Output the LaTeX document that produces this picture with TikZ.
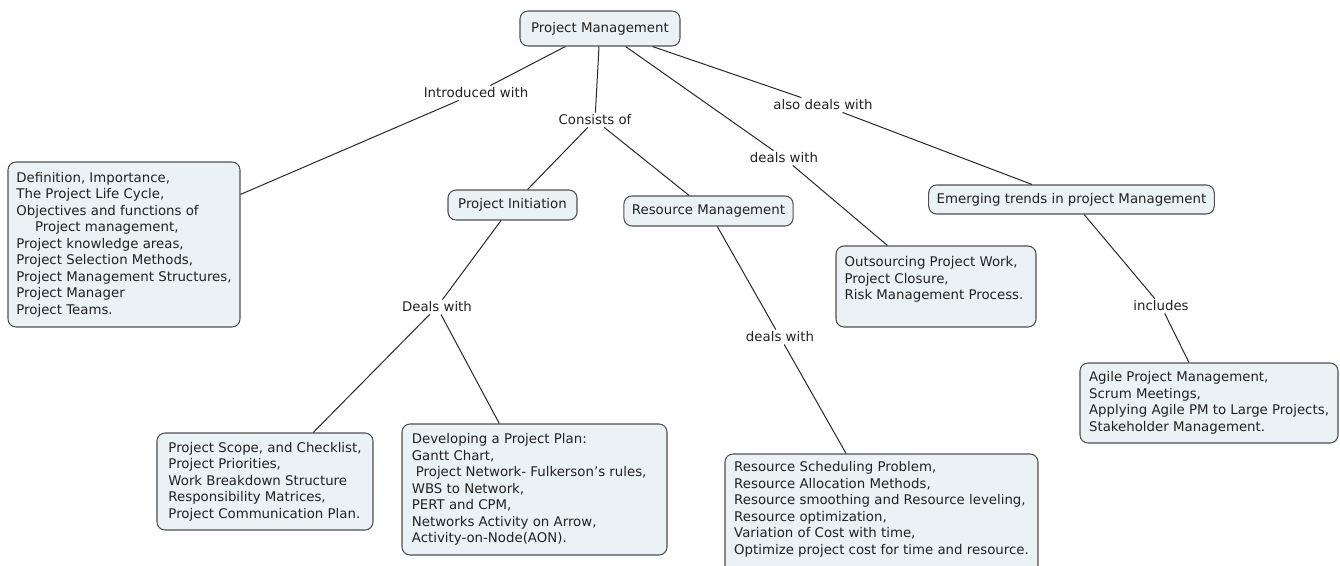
\documentclass[tikz,border=0pt]{standalone}
\usepackage{fontspec}
\setmainfont{DejaVu Sans}
\usepackage{tikz}

\definecolor{boxfill}{RGB}{234,242,245}
\definecolor{boxline}{RGB}{80,80,80}
\definecolor{linkline}{RGB}{40,40,40}
\definecolor{inktext}{RGB}{34,34,34}

\begin{document}
\begin{tikzpicture}[x=0.75pt, y=-0.75pt,
	font=\fontsize{10}{12.375}\selectfont,
	concept/.style={draw=boxline, fill=boxfill, rounded corners=6pt, line width=0.8pt, text=inktext, inner xsep=6pt, inner ysep=2pt},
	single/.style={concept, align=center},
	listbox/.style={concept, align=left},
	phrase/.style={text=inktext, inner sep=1.5pt},
	link/.style={draw=linkline, line width=0.75pt}]

	\useasboundingbox (0,0) rectangle (1340,565);

	%top

	\node[single, minimum width=120pt, minimum height=26.25pt] (pm) at (600,28.5) {Project Management};

	%first level

	\node[listbox, minimum width=174pt, minimum height=123.75pt] (intro) at (124,244.5) {Definition, Importance,\\The Project Life Cycle,\\Objectives and functions of\\\hspace*{14pt}Project management,\\Project knowledge areas,\\Project Selection Methods,\\Project Management Structures,\\Project Manager\\Project Teams.};
	\node[single, minimum width=96.75pt, minimum height=22.5pt] (init) at (512.5,205) {Project Initiation};
	\node[single, minimum width=126.75pt, minimum height=22.5pt] (resmgmt) at (708.5,211) {Resource Management};
	\node[listbox, minimum width=150pt, minimum height=60.75pt] (outs) at (936,286.5) {Outsourcing Project Work,\\Project Closure,\\Risk Management Process.\kern 3pt\\\mbox{}};
	\node[single, minimum width=213.75pt, minimum height=21.75pt] (trends) at (1071.5,199.5) {Emerging trends in project Management};

	%second level

	\node[listbox, minimum width=162pt, minimum height=72.75pt] (scope) at (265,481.5) {Project Scope, and Checklist,\\Project Priorities,\\Work Breakdown Structure\\Responsibility Matrices,\\Project Communication Plan.};
	\node[listbox, minimum width=198.75pt, minimum height=98.25pt] (plan) at (534.5,489.5) {Developing a Project Plan:\\Gantt Chart,\\\hspace*{3pt}Project Network- Fulkerson’s rules,\kern 8pt\\WBS to Network,\\PERT and CPM,\\Networks Activity on Arrow,\\Activity-on-Node(AON).};
	\node[listbox, minimum width=234.75pt, minimum height=93pt] (sched) at (881.5,516) {Resource Scheduling Problem,\\Resource Allocation Methods,\\Resource smoothing and Resource leveling,\\Resource optimization,\\Variation of Cost with time,\\Optimize project cost for time and resource.\\\mbox{}};
	\node[listbox, minimum width=193.5pt, minimum height=60pt] (agile) at (1209,403) {Agile Project Management,\\Scrum Meetings,\\Applying Agile PM to Large Projects,\\Stakeholder Management.};

	%linking phrases

	\node[phrase] (introw) at (476,93) {Introduced with};
	\node[phrase] (consists) at (595,120) {Consists of};
	\node[phrase] (dealsa) at (784,158) {deals with};
	\node[phrase] (alsodeals) at (823,105) {also deals with};
	\node[phrase] (dealsb) at (437,307) {Deals with};
	\node[phrase] (dealsc) at (780,337) {deals with};
	\node[phrase] (incl) at (1161,306) {includes};

	%connectors

	\draw[link] (pm) -- (introw) -- (intro);
	\draw[link] (pm) -- (consists) -- (init);
	\draw[link] (consists) -- (resmgmt);
	\draw[link] (pm) -- (dealsa) -- (outs);
	\draw[link] (pm) -- (alsodeals) -- (trends);
	\draw[link] (init) -- (dealsb) -- (scope);
	\draw[link] (dealsb) -- (plan);
	\draw[link] (resmgmt) -- (dealsc) -- (sched);
	\draw[link] (trends) -- (incl) -- (agile);

\end{tikzpicture}
\end{document}
